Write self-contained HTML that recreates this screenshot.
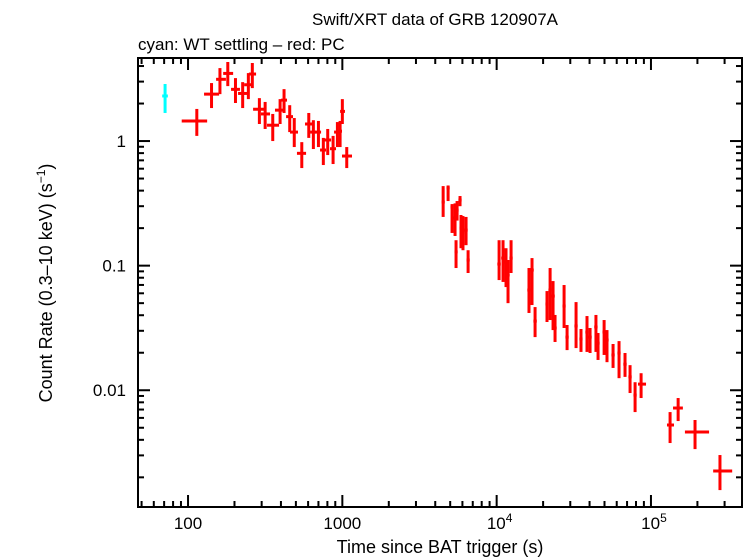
<!DOCTYPE html>
<html><head><meta charset="utf-8"><style>
body{margin:0;background:#fff}
svg{display:block;font-family:"Liberation Sans",sans-serif}
</style></head><body>
<svg id="chart" width="746" height="558" viewBox="0 0 746 558">
<text x="435" y="25" font-size="17" text-anchor="middle">Swift/XRT data of GRB 120907A</text>
<text x="138" y="50" font-size="17">cyan: WT settling – red: PC</text>
<text x="440" y="553" font-size="18" text-anchor="middle">Time since BAT trigger (s)</text>
<text transform="translate(52,283) rotate(-90)" font-size="18" text-anchor="middle">Count Rate (0.3–10 keV) (s<tspan font-size="12" dy="-7">−1</tspan><tspan dy="7">)</tspan></text>
<g id="axes"></g><g id="marks"></g>
<rect x="138" y="58" width="604" height="449" fill="none" stroke="#000" stroke-width="2"/>
</svg>
<script>
const wtTime=[71];const wtTimeLo=[68];const wtTimeHi=[74];
const wtRate=[2.30];const wtRateLo=[1.68];const wtRateHi=[2.87];
const pcTime=[114,142,161,181,203,226,246,261,290,316,354,395,419,456,488,546,606,649,700,753,804,871,929,967,1000,1068,
4500,4845,5140,5375,5540,5790,5875,6050,6335,5455,6530,
10370,11000,11500,11850,12400,16200,16950,17740,21200,22200,23200,23900,27350,28600,32700,35200,38500,40300,44000,45400,49700,51900,56800,62100,67900,73200,78900,86300,133000,150000,193000,280000];
const pcTimeLo=[91,127,152,169,190,211,231,248,264,297,325,366,401,432,458,508,573,618,665,717,761,832,884,938,967,995,
4400,4730,5020,5250,5410,5650,5740,5910,6180,5330,6380,
10100,10700,11200,11550,12100,15800,16500,17300,20700,21650,22600,23300,26700,27900,31900,34350,37550,39300,42900,44300,48500,50600,55400,60600,66200,71400,77000,82400,127000,139000,166000,253000];
const pcTimeHi=[133,159,176,196,217,241,260,276,320,340,389,413,438,479,516,582,637,676,728,784,845,910,967,995,1040,1155,
4610,4960,5260,5500,5670,5930,6010,6190,6490,5590,6690,
10630,11270,11800,12150,12700,16600,17400,18200,21700,22750,23800,24500,28000,29300,33500,36050,39450,41300,45100,46500,50900,53200,58200,63600,69600,75000,80800,92900,141000,161000,238000,336000];
const pcRate=[1.45,2.38,3.13,3.49,2.60,2.41,2.83,3.45,1.80,1.65,1.34,1.77,2.13,1.57,1.18,0.797,1.37,1.18,1.18,0.847,1.02,0.868,1.18,1.20,1.73,0.758,
0.324,0.420,0.295,0.241,0.279,0.336,0.200,0.186,0.193,0.129,0.111,
0.103,0.115,0.107,0.0841,0.115,0.0637,0.0922,0.0359,0.0492,0.0637,0.057,0.0316,0.0474,0.0267,0.0328,0.0258,0.0293,0.0267,0.0322,0.0239,0.0293,0.0253,0.0192,0.0199,0.0162,0.0128,0.00915,0.0112,0.00526,0.00720,0.00462,0.00225];
const pcRateLo=[1.10,1.84,2.38,2.76,2.02,1.84,2.17,2.66,1.37,1.25,1.0,1.37,1.68,1.18,0.895,0.607,1.06,0.863,0.895,0.642,0.772,0.654,0.895,0.895,1.37,0.607,
0.246,0.330,0.183,0.173,0.230,0.300,0.138,0.133,0.146,0.0957,0.0873,
0.0766,0.0740,0.0673,0.050,0.0873,0.0417,0.0483,0.0267,0.0353,0.0366,0.0304,0.0244,0.0316,0.0210,0.0218,0.0203,0.0203,0.0199,0.0203,0.0175,0.0192,0.0168,0.0151,0.0125,0.0128,0.0095,0.00668,0.00866,0.00377,0.00566,0.00337,0.00158];
const pcRateHi=[1.81,2.92,3.85,4.31,3.20,2.97,3.51,4.23,2.21,2.06,1.65,2.17,2.61,1.94,1.53,0.98,1.68,1.47,1.45,1.06,1.25,1.10,1.42,1.45,2.17,0.895,
0.435,0.440,0.312,0.316,0.330,0.362,0.255,0.250,0.246,0.160,0.133,
0.160,0.160,0.138,0.111,0.160,0.0957,0.115,0.0465,0.0625,0.0957,0.0752,0.0402,0.0699,0.0334,0.0510,0.031,0.0394,0.0316,0.0402,0.0288,0.0366,0.0304,0.0235,0.0248,0.0199,0.0159,0.0116,0.0137,0.00668,0.00866,0.00577,0.00302];
const xTickLabels=["100","1000","10^4","10^5"];const xTickValues=[100,1000,1e4,1e5];
const yTickLabels=["1","0.1","0.01"];const yTickValues=[1,0.1,0.01];

const L=138,R=742,T=58,B=507;
const xMin=Math.log10(47.4),xMax=Math.log10(389000),yMin=Math.log10(0.001156),yMax=Math.log10(4.64);
const X=v=>L+(Math.log10(v)-xMin)/(xMax-xMin)*(R-L);
const Y=v=>B-(Math.log10(v)-yMin)/(yMax-yMin)*(B-T);
const NS="http://www.w3.org/2000/svg";
const axes=document.getElementById('axes'),marks=document.getElementById('marks');
function ln(p,x1,y1,x2,y2,c,w){const e=document.createElementNS(NS,'line');e.setAttribute('x1',x1);e.setAttribute('y1',y1);e.setAttribute('x2',x2);e.setAttribute('y2',y2);e.setAttribute('stroke',c);e.setAttribute('stroke-width',w);p.appendChild(e);return e;}
// x ticks
for(let d=1;d<=6;d++){for(let m=1;m<=9;m++){const v=m*Math.pow(10,d);const x=X(v);if(x<L||x>R)continue;const len=m===1?12:6;
const t1=ln(axes,x,B,x,B-len,'#000',2);


const t2=ln(axes,x,T,x,T+len,'#000',2);

}}
for(let d=-3;d<=1;d++){for(let m=1;m<=9;m++){const v=m*Math.pow(10,d);const y=Y(v);if(y<T||y>B)continue;const len=m===1?12:6;
const t1=ln(axes,L,y,L+len,y,'#000',2);


const t2=ln(axes,R,y,R-len,y,'#000',2);

}}
xTickLabels.forEach((s,i)=>{const t=document.createElementNS(NS,'text');t.setAttribute('x',X(xTickValues[i]));t.setAttribute('y',529);t.setAttribute('font-size','17');t.setAttribute('text-anchor','middle');
if(s.indexOf('^')>0){const p=s.split('^');t.textContent=p[0];const sp=document.createElementNS(NS,'tspan');sp.setAttribute('font-size','12');sp.setAttribute('dy','-7');sp.textContent=p[1];t.appendChild(sp);t.setAttribute('x',X(xTickValues[i])+3);}else t.textContent=s;


axes.appendChild(t);});
yTickLabels.forEach((s,i)=>{const t=document.createElementNS(NS,'text');t.setAttribute('x',126);t.setAttribute('y',Y(yTickValues[i])+6);t.setAttribute('font-size','17');t.setAttribute('text-anchor','end');t.textContent=s;


axes.appendChild(t);});
function cross(t,tl,th,r,rl,rh,c,name){const g=document.createElementNS(NS,'g');


ln(g,X(tl),Y(r),X(th),Y(r),c,3);ln(g,X(t),Y(rh),X(t),Y(rl),c,3);marks.appendChild(g);}
wtTime.forEach((t,i)=>cross(t,wtTimeLo[i],wtTimeHi[i],wtRate[i],wtRateLo[i],wtRateHi[i],'#00ffff','wt-data-point'));
pcTime.forEach((t,i)=>cross(t,pcTimeLo[i],pcTimeHi[i],pcRate[i],pcRateLo[i],pcRateHi[i],'#ff0000','pc-data-point'));
</script>
</body></html>
